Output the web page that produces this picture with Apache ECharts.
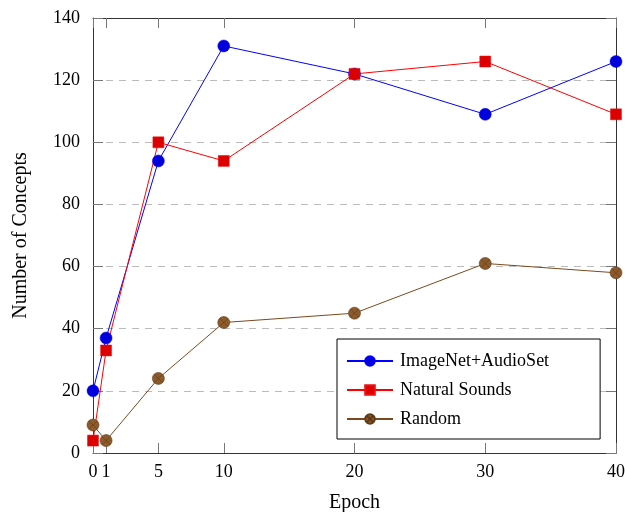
<!DOCTYPE html>
<html>
<head>
<meta charset="utf-8">
<script src="https://cdn.jsdelivr.net/npm/echarts@6/dist/echarts.min.js"></script>
<style>
  html, body { margin: 0; padding: 0; background: #fff; }
  #chart { width: 625px; height: 512px; }
</style>
</head>
<body>
<div id="chart"></div>
<script>
// epochs on the x axis
const epochs = [0, 1, 5, 10, 20, 30, 40]

// number of concepts per run
const imagenetAudioset = [20, 37, 94, 131, 122, 109, 126]
const naturalSounds = [4, 33, 100, 94, 122, 126, 109]
const randomInit = [9, 4, 24, 42, 45, 61, 58]

const pair = (xs, ys) => xs.map((x, i) => [x, ys[i]])

const font = 'Liberation Serif'
const crossCircle = 'path://M0,-10A10,10 0 1,1 0,10A10,10 0 1,1 0,-10ZM-7.07,-7.07L7.07,7.07M7.07,-7.07L-7.07,7.07'
const axisLine = { show: true, onZero: false, lineStyle: { color: '#333', width: 1 } }
const tickStyle = { color: '#777' }

const chart = echarts.init(document.getElementById('chart'))

const option = {
  animation: false,
  textStyle: { fontFamily: font, color: '#000' },
  grid: { left: 93, top: 18, width: 523, height: 435, outerBoundsMode: 'none' },
  legend: {
    left: 337,
    top: 339,
    orient: 'vertical',
    backgroundColor: '#fff',
    borderColor: '#000',
    borderWidth: 1,
    padding: [13, 51, 11, 9],
    itemWidth: 46,
    itemHeight: 12,
    itemGap: 11,
    textStyle: { fontFamily: font, fontSize: 18, color: '#000', padding: [0, 0, 0, 2] },
    data: ['ImageNet+AudioSet', 'Natural Sounds', 'Random']
  },
  xAxis: [{
    type: 'value',
    min: 0,
    max: 40,
    name: 'Epoch',
    nameLocation: 'middle',
    nameGap: 40,
    nameTextStyle: { fontFamily: font, fontSize: 20, color: '#000' },
    axisLine: axisLine,
    axisTick: { inside: true, length: 10, customValues: epochs, lineStyle: tickStyle },
    axisLabel: { customValues: epochs, fontFamily: font, fontSize: 18, color: '#000', margin: 10 },
    splitLine: { show: false }
  }, {
    type: 'value',
    position: 'top',
    min: 0,
    max: 40,
    axisLine: axisLine,
    axisTick: { inside: true, length: 10, customValues: epochs, lineStyle: tickStyle },
    axisLabel: { show: false },
    splitLine: { show: false }
  }],
  yAxis: [{
    type: 'value',
    min: 0,
    max: 140,
    interval: 20,
    name: 'Number of Concepts',
    nameLocation: 'middle',
    nameGap: 62,
    nameTextStyle: { fontFamily: font, fontSize: 20, color: '#000' },
    axisLine: axisLine,
    axisTick: { inside: true, length: 10, lineStyle: tickStyle },
    axisLabel: { fontFamily: font, fontSize: 18, color: '#000', margin: 13 },
    splitLine: { show: true, lineStyle: { color: '#bbb', type: [7, 6], width: 1 } }
  }, {
    type: 'value',
    position: 'right',
    min: 0,
    max: 140,
    interval: 20,
    axisLine: axisLine,
    axisTick: { inside: true, length: 10, lineStyle: tickStyle },
    axisLabel: { show: false },
    splitLine: { show: false }
  }],
  series: [{
    name: 'ImageNet+AudioSet',
    type: 'line',
    data: pair(epochs, imagenetAudioset),
    symbol: 'circle',
    symbolSize: 12,
    lineStyle: { color: '#0000ff', width: 1 },
    itemStyle: { color: '#0000dd', borderColor: '#0000ff', borderWidth: 0.5 },
    z: 3
  }, {
    name: 'Natural Sounds',
    type: 'line',
    data: pair(epochs, naturalSounds),
    symbol: 'rect',
    symbolSize: 11,
    lineStyle: { color: '#ff0000', width: 1 },
    itemStyle: { color: '#dd0000', borderColor: '#ee1010', borderWidth: 0.5 },
    z: 3
  }, {
    name: 'Random',
    type: 'line',
    data: pair(epochs, randomInit),
    symbol: crossCircle,
    symbolSize: 12,
    lineStyle: { color: '#7a4a1e', width: 1 },
    itemStyle: { color: '#8c5a2b', borderColor: '#5e3a18', borderWidth: 0.6 },
    z: 3
  }]
}

chart.setOption(option)
</script>
</body>
</html>
